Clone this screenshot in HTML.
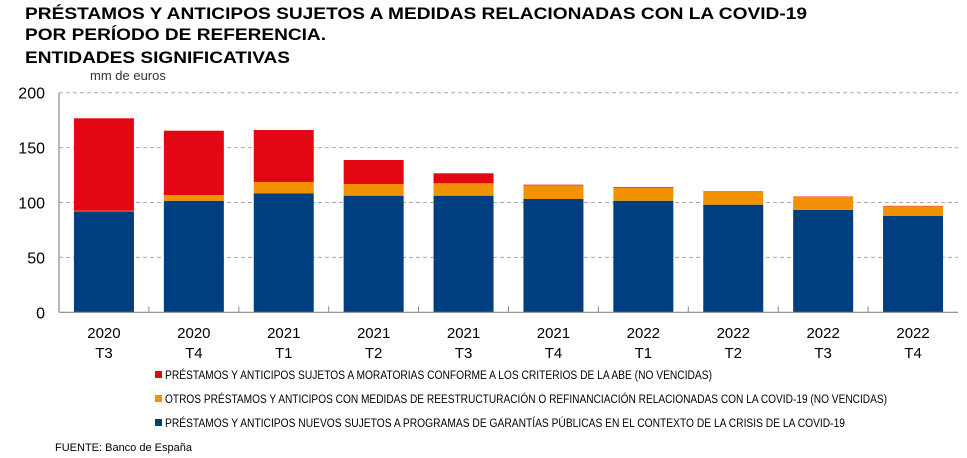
<!DOCTYPE html>
<html><head><meta charset="utf-8"><style>
body{margin:0;background:#fff}
svg{display:block;font-family:"Liberation Sans",sans-serif}
</style></head><body>
<svg id="c" width="967" height="458">
<text x="25" y="19" font-size="17" font-weight="bold" textLength="782" lengthAdjust="spacingAndGlyphs">PRÉSTAMOS Y ANTICIPOS SUJETOS A MEDIDAS RELACIONADAS CON LA COVID-19</text>
<text x="25" y="40" font-size="17" font-weight="bold" textLength="301" lengthAdjust="spacingAndGlyphs">POR PERÍODO DE REFERENCIA.</text>
<text x="25" y="63" font-size="17" font-weight="bold" textLength="265" lengthAdjust="spacingAndGlyphs">ENTIDADES SIGNIFICATIVAS</text>
<text x="90" y="80" font-size="13" fill="#333">mm de euros</text>
<g id="grid"></g><g id="bars"></g><g id="axes"></g>
<g>
<rect x="155" y="371" width="7" height="7" fill="#e30613"/>
<text x="165" y="379" font-size="11.5" textLength="547" lengthAdjust="spacingAndGlyphs">PRÉSTAMOS Y ANTICIPOS SUJETOS A MORATORIAS CONFORME A LOS CRITERIOS DE LA ABE (NO VENCIDAS)</text>
<rect x="155" y="395" width="7" height="7" fill="#f39200"/>
<text x="165" y="403" font-size="11.5" textLength="722" lengthAdjust="spacingAndGlyphs">OTROS PRÉSTAMOS Y ANTICIPOS CON MEDIDAS DE REESTRUCTURACIÓN O REFINANCIACIÓN RELACIONADAS CON LA COVID-19 (NO VENCIDAS)</text>
<rect x="155" y="419" width="7" height="7" fill="#003f7f"/>
<text x="165" y="427" font-size="11.5" textLength="680" lengthAdjust="spacingAndGlyphs">PRÉSTAMOS Y ANTICIPOS NUEVOS SUJETOS A PROGRAMAS DE GARANTÍAS PÚBLICAS EN EL CONTEXTO DE LA CRISIS DE LA COVID-19</text>
</g>
<text x="55" y="451" font-size="11">FUENTE: Banco de España</text>
</svg>
<script>
const years=["2020","2020","2021","2021","2021","2021","2022","2022","2022","2022"];
const quarters=["T3","T4","T1","T2","T3","T4","T1","T2","T3","T4"];
const garantias=[92,101.6,108.4,106.2,106.2,103.2,101.6,98,93.2,87.7];
const otros=[0.5,5.2,10.3,10.6,11.3,12.4,11.9,11.6,11.8,8.8];
const moratorias=[84.2,58.6,47.3,21.9,9.1,0.6,0.6,0.5,0.4,0.4];
const yTicks=[0,50,100,150,200];
const NS="http://www.w3.org/2000/svg";
const x0=59,x1=958,yZero=312.3,yTop=92.7,yMax=200;
const bw=(x1-x0)/years.length;
const y=v=>yZero-(v/yMax)*(yZero-yTop);
function mk(p,t,a){const e=document.createElementNS(NS,t);for(const k in a)e.setAttribute(k,a[k]);p.appendChild(e);return e;}
const grid=document.getElementById('grid'),bars=document.getElementById('bars'),axes=document.getElementById('axes');
yTicks.forEach(v=>{
  if(v>0){const l=mk(grid,'line',{x1:x0,x2:x1,y1:y(v),y2:y(v),stroke:'#aaa','stroke-dasharray':'4,3','stroke-width':1});
  
  }
  const t=mk(axes,'text',{x:45,y:y(v)+6,'font-size':16,'text-anchor':'end'});t.textContent=v;
  
  
});
const series=[[garantias,'#003f7f','garantias'],[otros,'#f39200','otros'],[moratorias,'#e30613','moratorias']];
years.forEach((yr,i)=>{
  const bx=x0+i*bw+(bw-60)/2;let base=0;
  series.forEach(([arr,col,nm])=>{
    const v=arr[i];
    const r=mk(bars,'rect',{x:bx,y:y(base+v),width:60,height:y(base)-y(base+v),fill:col});
    
    
    base+=v;
  });
  const cx=x0+i*bw+bw/2;
  const t1=mk(axes,'text',{x:cx,y:338,'font-size':15,'text-anchor':'middle'});t1.textContent=yr;
  
  
  const t2=mk(axes,'text',{x:cx,y:358,'font-size':15,'text-anchor':'middle'});t2.textContent=quarters[i];
  
  
  if(i>0){const tk=mk(axes,'line',{x1:x0+i*bw,x2:x0+i*bw,y1:yZero-6,y2:yZero,stroke:'#888'});
  
  }
});
const ax=mk(axes,'line',{x1:x0,x2:x1,y1:yZero,y2:yZero,stroke:'#888','stroke-width':1.2});


const ay=mk(axes,'line',{x1:x0,x2:x0,y1:yTop,y2:yZero,stroke:'#888','stroke-width':1.2});


</script>
</body></html>
